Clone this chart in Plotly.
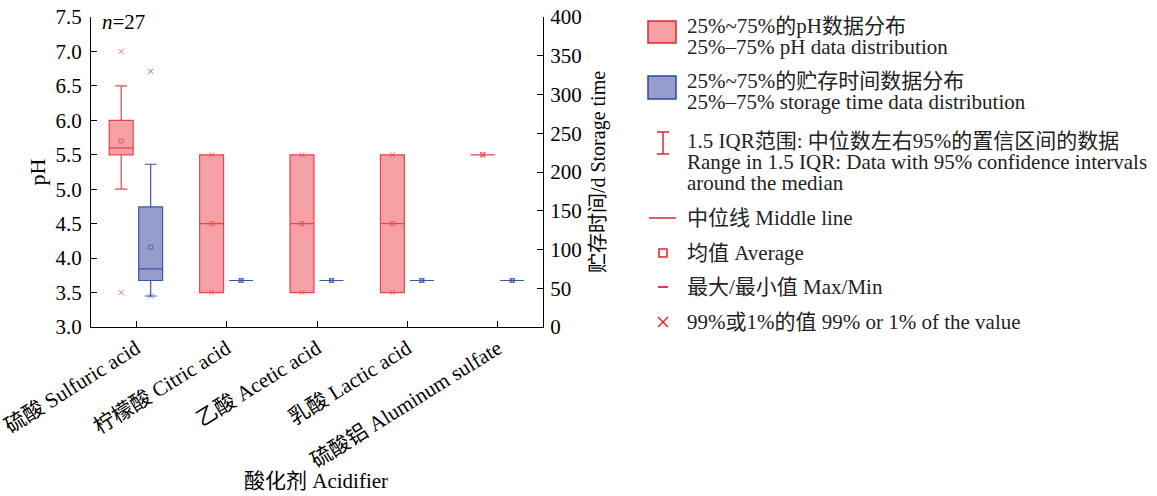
import plotly.graph_objects as go

# ---------------- data ----------------
categories = ["硫酸 Sulfuric acid", "柠檬酸 Citric acid", "乙酸 Acetic acid",
              "乳酸 Lactic acid", "硫酸铝 Aluminum sulfate"]

# pH (left axis)
ph_low = [5.0, 3.5, 3.5, 3.5, 5.5]
ph_q1 = [5.5, 3.5, 3.5, 3.5, 5.5]
ph_median = [5.6, 4.5, 4.5, 4.5, 5.5]
ph_q3 = [6.0, 5.5, 5.5, 5.5, 5.5]
ph_high = [6.5, 5.5, 5.5, 5.5, 5.5]
ph_mean = [5.7, 4.5, 4.5, 4.5, 5.5]
ph_p99 = [7.0, 5.5, 5.5, 5.5, 5.5]
ph_p1 = [3.5, 3.5, 3.5, 3.5, 5.5]

# storage time, d (right axis)
st_low = [40, 60, 60, 60, 60]
st_q1 = [60, 60, 60, 60, 60]
st_median = [75, 60, 60, 60, 60]
st_q3 = [155, 60, 60, 60, 60]
st_high = [210, 60, 60, 60, 60]
st_mean = [103, 60, 60, 60, 60]
st_p99 = [330, 60, 60, 60, 60]
st_p1 = [40, 60, 60, 60, 60]

ph_ticks = [3.0, 3.5, 4.0, 4.5, 5.0, 5.5, 6.0, 6.5, 7.0, 7.5]
st_ticks = [0, 50, 100, 150, 200, 250, 300, 350, 400]

legend_texts = [
    ["25%~75%的pH数据分布", "25%–75% pH data distribution"],
    ["25%~75%的贮存时间数据分布", "25%–75% storage time data distribution"],
    ["1.5 IQR范围: 中位数左右95%的置信区间的数据",
     "Range in 1.5 IQR: Data with 95% confidence intervals", "around the median"],
    ["中位线 Middle line"],
    ["均值 Average"],
    ["最大/最小值 Max/Min"],
    ["99%或1%的值 99% or 1% of the value"],
]

# ---------------- style ----------------
FONT = "Liberation Serif, Times New Roman, Noto Sans CJK SC, serif"
RED_LINE = "#E4464E"
RED_FILL = "rgba(238,92,98,0.58)"
RED_MARK = "rgba(230,70,78,0.75)"
BLUE_LINE = "#3B55AA"
BLUE_FILL = "rgba(80,90,170,0.60)"
BLUE_MARK = "rgba(60,80,170,0.75)"
OFF_PH, OFF_ST, BOX_W = -0.166, 0.160, 0.265

idx = list(range(len(categories)))
x_ph = [i + OFF_PH for i in idx]
x_st = [i + OFF_ST for i in idx]

fig = go.Figure()

fig.add_trace(go.Box(x=x_ph, q1=ph_q1, median=ph_median, q3=ph_q3,
                     lowerfence=ph_low, upperfence=ph_high, width=BOX_W,
                     fillcolor=RED_FILL, line=dict(color=RED_LINE, width=1.2),
                     whiskerwidth=0.5, boxpoints=False, showlegend=False,
                     hoverinfo="skip", yaxis="y"))
fig.add_trace(go.Box(x=x_st, q1=st_q1, median=st_median, q3=st_q3,
                     lowerfence=st_low, upperfence=st_high, width=BOX_W,
                     fillcolor=BLUE_FILL, line=dict(color=BLUE_LINE, width=1.2),
                     whiskerwidth=0.5, boxpoints=False, showlegend=False,
                     hoverinfo="skip", yaxis="y2"))

# means
fig.add_trace(go.Scatter(x=x_ph, y=ph_mean, mode="markers", yaxis="y",
                         marker=dict(symbol="square-open", size=4, color=RED_MARK,
                                     line=dict(width=1)), showlegend=False))
fig.add_trace(go.Scatter(x=x_st, y=st_mean, mode="markers", yaxis="y2",
                         marker=dict(symbol="square-open", size=4, color=BLUE_MARK,
                                     line=dict(width=1)), showlegend=False))
# 99% / 1% values
for ys, xs, col, ax in [(ph_p99, x_ph, RED_MARK, "y"), (ph_p1, x_ph, RED_MARK, "y"),
                        (st_p99, x_st, BLUE_MARK, "y2"), (st_p1, x_st, BLUE_MARK, "y2")]:
    fig.add_trace(go.Scatter(x=xs, y=ys, mode="markers", yaxis=ax,
                             marker=dict(symbol="x-thin-open", size=5, color=col,
                                         line=dict(width=1, color=col)),
                             showlegend=False))

# ---------------- layout ----------------
L, R, T, B = 91, 543, 17, 327          # plot area in page pixels
W, H = 1157, 496


def px(x):
    return (x - L) / (R - L)


def py(y):
    return (B - y) / (B - T)


axis_common = dict(showline=True, linecolor="black", linewidth=1.2, ticks="inside",
                   ticklen=6, tickcolor="black", showgrid=False, zeroline=False,
                   automargin=False, ticklabeloverflow="allow",
                   tickfont=dict(family=FONT, size=21, color="black"))

fig.update_layout(
    width=W, height=H,
    margin=dict(l=L, r=W - R, t=T, b=H - B),
    paper_bgcolor="white", plot_bgcolor="white",
    font=dict(family=FONT, size=21, color="black"),
    showlegend=False,
    xaxis=dict(range=[-0.5, 4.5], tickvals=idx, ticktext=categories, tickangle=-32,
               **axis_common),
    yaxis=dict(range=[3.0, 7.5], tickvals=ph_ticks,
               ticktext=[f"{v:.1f}" for v in ph_ticks],
               title=dict(text="pH", font=dict(size=22), standoff=3),
               ticklabelstandoff=4, **axis_common),
    yaxis2=dict(range=[0, 400], tickvals=st_ticks, ticktext=[str(v) for v in st_ticks],
                overlaying="y", side="right",
                title=dict(text="贮存时间/d Storage time", font=dict(size=20), standoff=10),
                ticklabelstandoff=2, **axis_common),
)

# x-axis title (placed as text so rotated labels do not push it off the page)
fig.add_annotation(xref="paper", yref="paper", x=px(316), y=py(481), xanchor="center",
                   yanchor="middle", showarrow=False, text="酸化剂 Acidifier",
                   font=dict(family=FONT, size=21))

fig.add_annotation(xref="paper", yref="paper", x=px(100), y=py(22), xanchor="left",
                   yanchor="middle", showarrow=False, text="<i>n</i>=27",
                   font=dict(family=FONT, size=21))

# ---------------- custom legend ----------------
LEG_RED = "#E2232B"
shapes = []
shapes.append(dict(type="rect", xref="paper", yref="paper", x0=px(648), x1=px(676),
                   y0=py(43), y1=py(21), fillcolor=RED_FILL,
                   line=dict(color=LEG_RED, width=1.5)))
shapes.append(dict(type="rect", xref="paper", yref="paper", x0=px(648), x1=px(676),
                   y0=py(99), y1=py(76), fillcolor=BLUE_FILL,
                   line=dict(color="#2B48A4", width=1.5)))
# IQR symbol
for (x0, y0, x1, y1) in [(663, 132, 663, 154), (657, 132, 669, 132), (657, 154, 669, 154)]:
    shapes.append(dict(type="line", xref="paper", yref="paper", x0=px(x0), x1=px(x1),
                       y0=py(y0), y1=py(y1), line=dict(color=LEG_RED, width=1.5)))
# median line
shapes.append(dict(type="line", xref="paper", yref="paper", x0=px(649), x1=px(676),
                   y0=py(218), y1=py(218), line=dict(color=LEG_RED, width=1.5)))
# mean square
shapes.append(dict(type="rect", xref="paper", yref="paper", x0=px(659), x1=px(667),
                   y0=py(257), y1=py(249), line=dict(color=LEG_RED, width=1.5)))
# max/min dash
shapes.append(dict(type="line", xref="paper", yref="paper", x0=px(658), x1=px(668),
                   y0=py(287), y1=py(287), line=dict(color=LEG_RED, width=1.8)))
# x mark
for (x0, y0, x1, y1) in [(658, 317, 668, 327), (658, 327, 668, 317)]:
    shapes.append(dict(type="line", xref="paper", yref="paper", x0=px(x0), x1=px(x1),
                       y0=py(y0), y1=py(y1), line=dict(color=LEG_RED, width=1.5)))
fig.update_layout(shapes=shapes)

# legend texts: base font 16 gives ~20.8px line spacing, glyphs drawn at 21px
legend_centers = [36, 91, 162, 218, 253, 287, 322]
for yy, lines in zip(legend_centers, legend_texts):
    txt = "<br>".join(f'<span style="font-size:21px">{t}</span>' for t in lines)
    fig.add_annotation(xref="paper", yref="paper", x=px(685), y=py(yy), xanchor="left",
                       yanchor="middle", showarrow=False, text=txt, align="left",
                       font=dict(family=FONT, size=16, color="#222"))

# remove the browser's default 8px body margin so the figure fills the window
fig.write_html("out.html",
               config={"displayModeBar": False},
               post_script="document.body.style.margin='0';"
                           "document.body.style.overflow='hidden';")
